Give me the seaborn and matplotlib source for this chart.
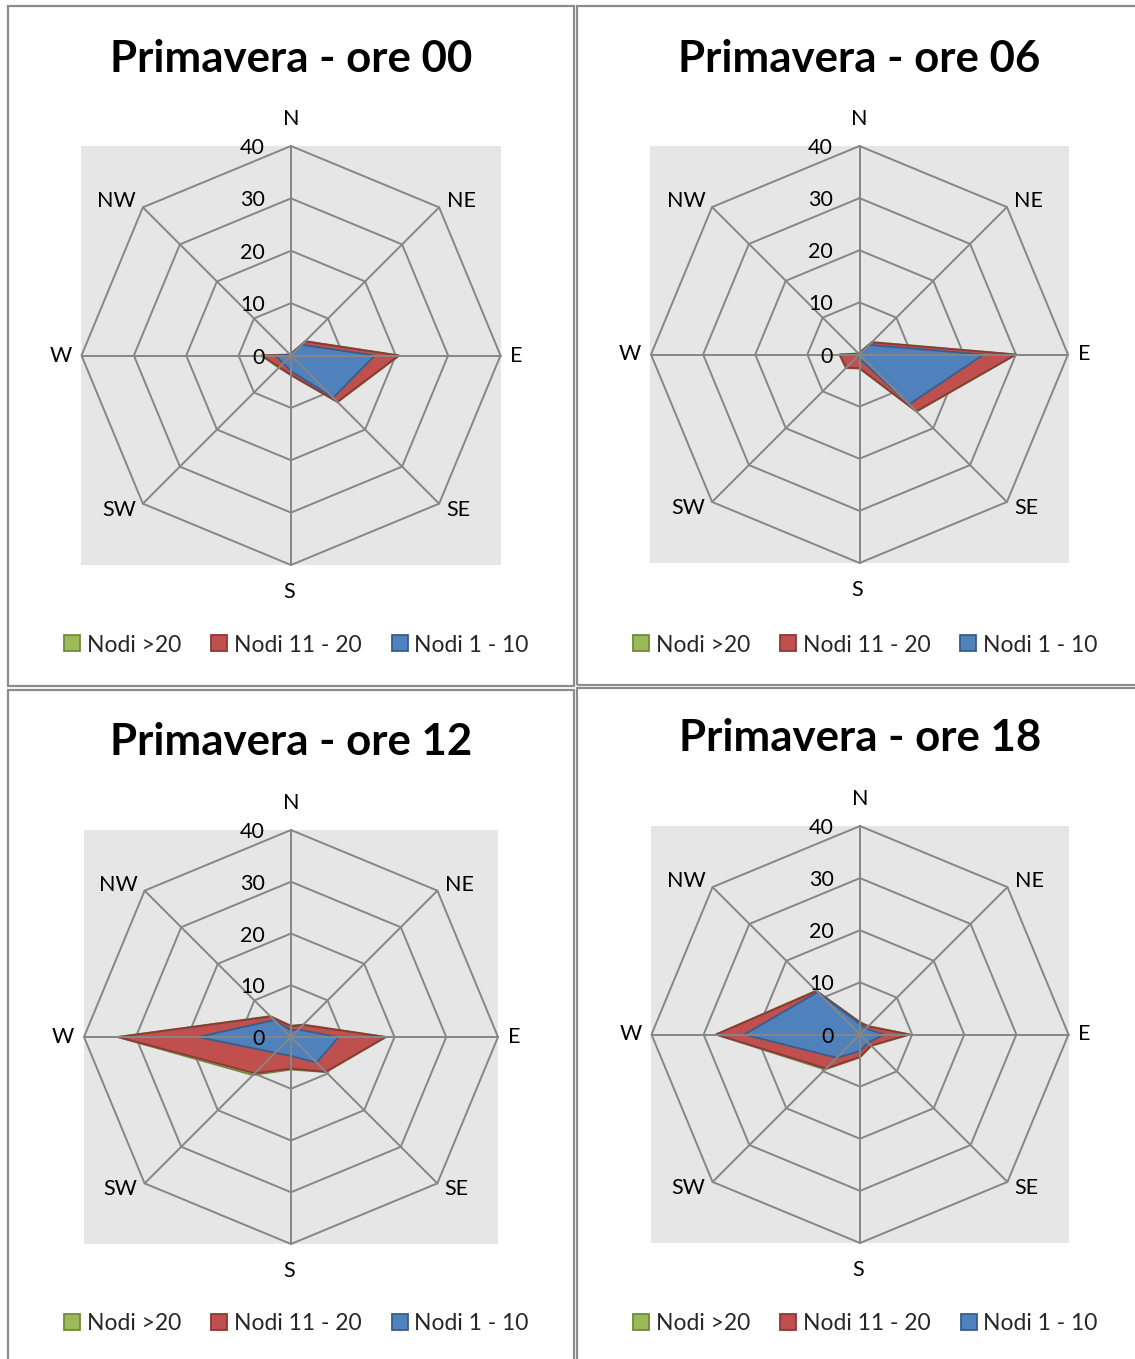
import numpy as np
import matplotlib
matplotlib.use("Agg")
import matplotlib.pyplot as plt
from matplotlib.lines import Line2D
from matplotlib.patches import Rectangle
import seaborn as sns

# --- data -------------------------------------------------------------
directions = ["N", "NE", "E", "SE", "S", "SW", "W", "NW"]
series_names = ["Nodi >20", "Nodi 11 - 20", "Nodi 1 - 10"]
ring_ticks = [0, 10, 20, 30, 40]
titles = ["Primavera - ore 00", "Primavera - ore 06",
          "Primavera - ore 12", "Primavera - ore 18"]

# values per direction (N, NE, E, SE, S, SW, W, NW)
ore00_gt20 = [0.4, 3.9, 20.7, 12.6, 3.8, 3.3, 5.7, 0.3]
ore00_11_20 = [0.3, 3.8, 20.6, 12.5, 3.7, 3.15, 5.6, 0.2]
ore00_1_10 = [0.2, 2.9, 16.0, 11.4, 3.0, 2.1, 3.0, 0.1]

ore06_gt20 = [0.4, 3.4, 30.1, 15.5, 2.7, 3.7, 3.9, 0.3]
ore06_11_20 = [0.3, 3.3, 30.0, 15.4, 2.6, 3.6, 3.8, 0.2]
ore06_1_10 = [0.2, 2.6, 23.8, 13.5, 0.8, 0.4, 0.6, 0.1]

ore12_gt20 = [2.2, 3.4, 18.4, 9.6, 6.3, 10.4, 33.6, 5.7]
ore12_11_20 = [2.1, 3.3, 18.3, 9.5, 6.1, 9.9, 33.4, 5.6]
ore12_1_10 = [1.3, 2.0, 9.2, 7.0, 3.65, 4.3, 18.0, 4.6]

ore18_gt20 = [2.4, 2.3, 9.6, 3.1, 4.4, 9.5, 27.7, 11.9]
ore18_11_20 = [2.3, 2.2, 9.5, 3.0, 4.3, 9.2, 27.6, 11.8]
ore18_1_10 = [2.0, 1.6, 4.6, 2.2, 3.2, 6.3, 22.2, 11.5]

panels = [
    (ore00_gt20, ore00_11_20, ore00_1_10),
    (ore06_gt20, ore06_11_20, ore06_1_10),
    (ore12_gt20, ore12_11_20, ore12_1_10),
    (ore18_gt20, ore18_11_20, ore18_1_10),
]

# --- style ------------------------------------------------------------
sns.set_theme(style="white")
plt.rcParams["font.family"] = ["Lato", "DejaVu Sans"]

fill_colors = sns.color_palette(["#9BBB59", "#C0504D", "#4F81BD"])
edge_colors = ["#71893F", "#8C3836", "#385D8A"]
grid_color = "#868686"
plot_bg = "#E6E6E6"

W, H = 1135, 1359
fig = plt.figure(figsize=(W / 100, H / 100), dpi=100)
fig.patch.set_facecolor("white")


def fig_box(x0, y0, x1, y1):
    """Pixel box (top-left origin) -> figure fraction [l, b, w, h]."""
    return [x0 / W, 1 - y1 / H, (x1 - x0) / W, (y1 - y0) / H]


# panel frames
frames = [(8, 6, 574, 686), (577, 6, 1140, 685),
          (8, 690, 574, 1365), (577, 688, 1140, 1365)]
for x0, y0, x1, y1 in frames:
    l, b, w, h = fig_box(x0, y0, x1, y1)
    fig.add_artist(Rectangle((l, b), w, h, transform=fig.transFigure,
                             fill=False, edgecolor="#8C8C8C", lw=1.6))

# plot areas (square grey region holding the radar)
areas = [(81, 146, 501, 565), (650, 146, 1069, 563),
         (84, 830, 498, 1244), (651, 826, 1069, 1243)]
title_y = [59, 59, 742, 738]
legend_y = [645, 645, 1324, 1324]

# compass label offsets from the outer ring vertex, in pixels (x right, y up)
label_offsets = [(0, 27), (22, 6), (16, 0), (19, -6),
                 (-2, -27), (-24, -6), (-21, 0), (-26, 6)]

theta = np.deg2rad(np.arange(0, 360, 45))
theta_c = np.append(theta, theta[0])
px2pt = 72 / 100

for k, (area, vals) in enumerate(zip(areas, panels)):
    x0, y0, x1, y1 = area
    bg = fig.add_axes(fig_box(*area))
    bg.set_facecolor(plot_bg)
    bg.set_xticks([])
    bg.set_yticks([])
    for s in bg.spines.values():
        s.set_visible(False)

    ax = fig.add_axes(fig_box(*area), projection="polar")
    ax.patch.set_visible(False)
    ax.set_theta_zero_location("N")
    ax.set_theta_direction(-1)
    ax.set_ylim(0, 40)
    ax.grid(False)
    ax.spines["polar"].set_visible(False)
    ax.set_xticks([])
    ax.set_yticks([])

    # octagonal rings
    for r in ring_ticks[1:]:
        ax.plot(theta_c, np.full(theta_c.shape, r), color=grid_color,
                lw=1.4, zorder=1, clip_on=False)

    # filled series, back to front
    for v, fc, ec in zip(vals, fill_colors, edge_colors):
        r = np.append(v, v[0])
        ax.fill(theta_c, r, facecolor=fc, edgecolor="none", zorder=2)
        sns.lineplot(x=theta_c, y=r, sort=False, estimator=None, ax=ax,
                     color=ec, lw=1.3, zorder=3)

    # spokes
    for t in theta:
        ax.plot([t, t], [0, 40], color=grid_color, lw=1.4, zorder=4,
                clip_on=False)
    ax.set_xlabel("")
    ax.set_ylabel("")

    # ring value labels next to the N spoke
    for r in ring_ticks:
        ax.annotate(str(r), xy=(0, r), xytext=(-19, -1.5),
                    textcoords="offset points", ha="right", va="center",
                    fontsize=15.5, color="black", zorder=5)

    # compass labels
    for t, d, (dx, dy) in zip(theta, directions, label_offsets):
        ax.annotate(d, xy=(t, 40), xytext=(dx * px2pt, dy * px2pt),
                    textcoords="offset points", ha="center", va="center",
                    fontsize=15.5, color="black", annotation_clip=False)

    cx = (x0 + x1) / 2
    fig.text(cx / W, 1 - title_y[k] / H, titles[k], ha="center",
             va="center", fontsize=31.5, fontweight="bold", color="black")

    handles = [Line2D([], [], ls="none", marker="s", markersize=11,
                      markerfacecolor=fc, markeredgecolor=ec,
                      markeredgewidth=1.3)
               for fc, ec in zip(fill_colors, edge_colors)]
    fig.legend(handles, series_names, loc="center", ncol=3,
               bbox_to_anchor=((cx + 5) / W, 1 - legend_y[k] / H),
               frameon=False, fontsize=16.5, handlelength=0.8,
               handletextpad=0.25, columnspacing=1.25, borderpad=0)

fig.savefig("out.png", dpi=100)
